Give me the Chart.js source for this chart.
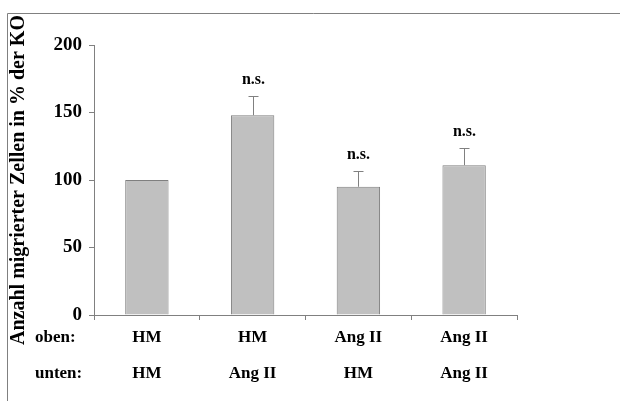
<!DOCTYPE html>
<html>
<head>
<meta charset="utf-8">
<script src="https://cdn.jsdelivr.net/npm/chart.js@4"></script>
<style>
  html, body { margin: 0; padding: 0; background: #fff; }
  #wrap { width: 620px; height: 401px; position: relative; }
</style>
</head>
<body>
<div id="wrap"><canvas id="chart"></canvas></div>
<script>
// Werte
const upperLabels = ['HM', 'HM', 'Ang II', 'Ang II'];
const lowerLabels = ['HM', 'Ang II', 'HM', 'Ang II'];
const rowNames = ['oben:', 'unten:'];
const values = [100, 148, 95, 111];
const errors = [0, 14, 11.5, 12.5];
const sigLabels = ['', 'n.s.', 'n.s.', 'n.s.'];
const yTitle = 'Anzahl migrierter Zellen in % der KO';

const serif = "'Liberation Serif', 'Times New Roman', serif";
const LINE_H = 36;

const labels = upperLabels.map((u, i) => [u, lowerLabels[i]]);

// Rahmen, Fehlerbalken, n.s. und Zeilennamen
const extras = {
    id: 'extras',
    beforeDraw(chart) {
        const ctx = chart.ctx;
        ctx.save();
        ctx.strokeStyle = '#808080';
        ctx.lineWidth = 1;
        ctx.beginPath();
        ctx.moveTo(7.5, chart.height);
        ctx.lineTo(7.5, 13.5);
        ctx.lineTo(chart.width, 13.5);
        ctx.stroke();
        ctx.restore();
    },
    afterDatasetsDraw(chart) {
        const ctx = chart.ctx;
        const x = chart.scales.x;
        const y = chart.scales.y;
        ctx.save();
        ctx.strokeStyle = '#808080';
        ctx.lineWidth = 1;
        values.forEach((v, i) => {
            const px = Math.round(x.getPixelForValue(i)) + 0.5;
            const top = y.getPixelForValue(v);
            const end = y.getPixelForValue(v + errors[i]);
            if (errors[i] > 0) {
                ctx.beginPath();
                ctx.moveTo(px, top);
                ctx.lineTo(px, Math.round(end) + 0.5);
                ctx.moveTo(px - 5, Math.round(end) + 0.5);
                ctx.lineTo(px + 5, Math.round(end) + 0.5);
                ctx.stroke();
            }
            if (sigLabels[i]) {
                ctx.fillStyle = '#000';
                ctx.font = 'bold 16px ' + serif;
                ctx.textAlign = 'center';
                ctx.textBaseline = 'middle';
                ctx.fillText(sigLabels[i], px, end - 16);
            }
        });
        // oben: / unten:
        ctx.fillStyle = '#000';
        ctx.font = 'bold 17px ' + serif;
        ctx.textAlign = 'left';
        ctx.textBaseline = 'middle';
        const base = chart.chartArea.bottom + 5;
        rowNames.forEach((r, k) => {
            ctx.fillText(r, 35, base + LINE_H / 2 + k * LINE_H);
        });
        ctx.restore();
    }
};

new Chart(document.getElementById('chart'), {
    type: 'bar',
    data: {
        labels: labels,
        datasets: [{
            data: values,
            backgroundColor: '#c0c0c0',
            borderColor: '#7f7f7f',
            borderWidth: 1,
            categoryPercentage: 1,
            barPercentage: 0.41
        }]
    },
    options: {
        responsive: true,
        maintainAspectRatio: false,
        animation: false,
        layout: { padding: { top: 45, right: 103, left: 0, bottom: 0 } },
        plugins: {
            legend: { display: false },
            tooltip: { enabled: false }
        },
        scales: {
            x: {
                afterFit(scale) { scale.height = 86; },
                grid: {
                    display: true,
                    drawOnChartArea: false,
                    drawTicks: true,
                    tickLength: 5,
                    color: '#808080',
                    offset: true
                },
                border: { color: '#808080' },
                ticks: {
                    color: '#000',
                    padding: 0,
                    font: { family: serif, size: 17, weight: 'bold', lineHeight: LINE_H + 'px' }
                }
            },
            y: {
                min: 0,
                max: 200,
                afterFit(scale) { scale.width = 94; },
                grid: {
                    display: true,
                    drawOnChartArea: false,
                    drawTicks: true,
                    tickLength: 5,
                    color: '#808080'
                },
                border: { color: '#808080' },
                ticks: {
                    stepSize: 50,
                    color: '#000',
                    padding: 7,
                    font: { family: serif, size: 19, weight: 'bold' }
                },
                title: {
                    display: true,
                    text: yTitle,
                    color: '#000',
                    padding: { top: 7, bottom: 0 },
                    font: { family: serif, size: 20, weight: 'bold' }
                }
            }
        }
    },
    plugins: [extras]
});
</script>
</body>
</html>
